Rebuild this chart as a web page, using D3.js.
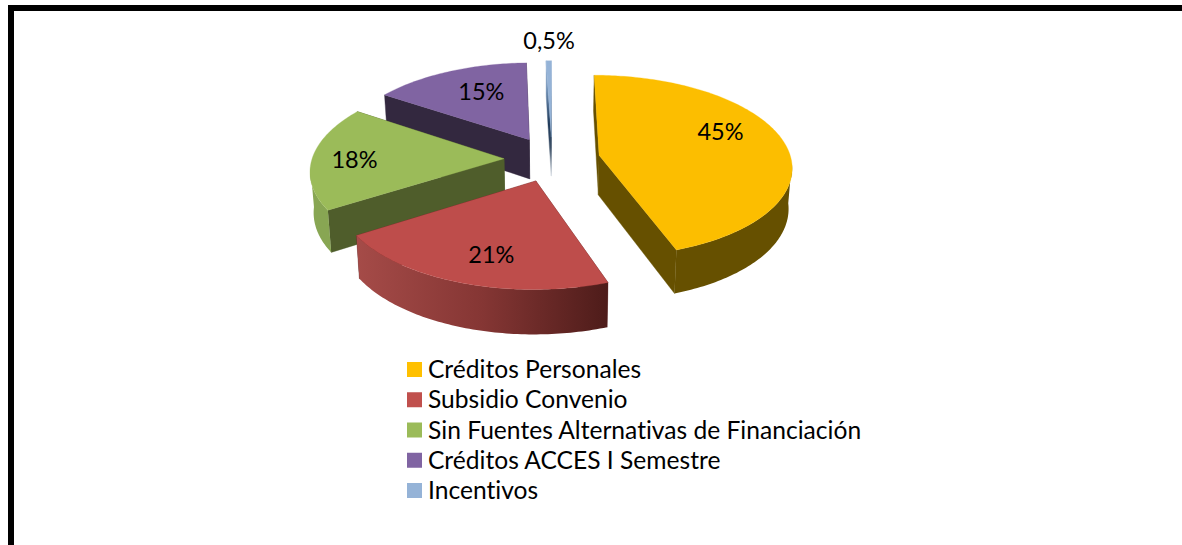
<!DOCTYPE html>
<html><head><meta charset="utf-8">
<script src="https://cdn.jsdelivr.net/npm/d3@7"></script>
<style>html,body{margin:0;padding:0;background:#fff;overflow:hidden}svg{display:block}text{font-variant-ligatures:none}</style>
</head><body><div id="chart"></div>
<script>
const categories = ["Créditos Personales","Subsidio Convenio","Sin Fuentes Alternativas de Financiación","Créditos ACCES I Semestre","Incentivos"];
const values = [44.6,21.4,18.4,15.1,0.5];
const valueLabels = ["45%","21%","18%","15%","0,5%"];
const topColors = ["#fcbe00","#be4d4b","#9bbb59","#8064a2","#95b3d7"];
const legendColors = ["#ffc000","#c0504d","#9bbb59","#8064a2","#95b3d7"];
const arcWallColors = ["#665000","url(#redWall)","#88a653","#33283f","#23405f"];
const edgeWallColors = ["#665000","#5a2220","#4f5d2b","#33283f","url(#blueWall)"];

const W=1182,H=545, font="Lato, Carlito, sans-serif";
const svg=d3.select("#chart").append("svg").attr("width",W).attr("height",H);
svg.append("rect").attr("width",W).attr("height",H).attr("fill","#fff");
svg.append("rect").attr("x",11).attr("y",8).attr("width",1400).attr("height",900)
  .attr("fill","none").attr("stroke","#000").attr("stroke-width",6);

const defs=svg.append("defs");
const g1=defs.append("linearGradient").attr("id","redWall").attr("gradientUnits","userSpaceOnUse")
  .attr("x1",357).attr("x2",607).attr("y1",0).attr("y2",0);
[[0,"#a54b48"],[.5,"#853634"],[1,"#4e1c1a"]].forEach(d=>g1.append("stop").attr("offset",d[0]).attr("stop-color",d[1]));
const g2=defs.append("linearGradient").attr("id","blueWall").attr("gradientUnits","userSpaceOnUse")
  .attr("x1",0).attr("x2",0).attr("y1",61).attr("y2",176);
[[0,"#95b3d7"],[.25,"#6f8fb5"],[.55,"#1f3a5a"],[.75,"#3b4f66"],[1,"#d5dbe2"]].forEach(d=>g2.append("stop").attr("offset",d[0]).attr("stop-color",d[1]));

// perspective projection of the tilted, exploded disc
const cx=552, cy=159, explode=.25, Rx=192, Ry=90.2, persp=.1176, lowerScale=.985;
const rad=Math.PI/180;
const project=(U,V)=>{const s=1/(1-persp*V);return [cx+Rx*U*s,cy+Ry*V*s];};
const pie=d3.pie().sort(null).startAngle(0).endAngle(2*Math.PI);
const arcs=pie(values).map((d,i)=>{
  const mid=(d.startAngle+d.endAngle)/2;
  return {...d,i,mid,ox:explode*Math.sin(mid),oy:-explode*Math.cos(mid)};
});
const line=d3.line();
const sample=(a0,a1)=>{
  const n=Math.max(2,Math.ceil((a1-a0)/(1*rad)));
  return d3.range(n+1).map(k=>a0+(a1-a0)*k/n);
};
const disc=(d,a,r=1)=>[d.ox+r*Math.sin(a),d.oy-r*Math.cos(a)];
const top3=(d,a,r=1)=>{const w=disc(d,a,r);return project(w[0],w[1]);};
const low3=(d,a,r=1)=>{const w=disc(d,a,r),p=project(w[0],w[1]);
  return [cx+(p[0]-cx)*lowerScale,p[1]+40+4*w[1]];};

const order=[3,4,2,0,1];
const gPie=svg.append("g");
order.forEach(i=>{
  const d=arcs[i], g=gPie.append("g");
  const apex=top3(d,0,0), apexLow=low3(d,0,0);
  [d.endAngle,d.startAngle].forEach(a=>{
    g.append("path").attr("d",line([apex,top3(d,a),low3(d,a),apexLow])+"Z")
      .attr("fill",edgeWallColors[i]).attr("stroke",edgeWallColors[i]).attr("stroke-width",.4);
  });
  const lo=Math.max(d.startAngle,95*rad), hi=Math.min(d.endAngle,265*rad);
  if(hi>lo){
    const as=sample(lo,hi);
    g.append("path").attr("d",line(as.map(a=>top3(d,a)).concat(as.map(a=>low3(d,a)).reverse()))+"Z")
      .attr("fill",arcWallColors[i]);
  }
  g.append("path").attr("d",line([apex].concat(sample(d.startAngle,d.endAngle).map(a=>top3(d,a))))+"Z")
    .attr("fill",topColors[i]).attr("stroke",topColors[i]).attr("stroke-width",.3);
});

// value labels, placed along each slice's mid radius
const labelFrac=[.64,.75,.77,.65,1.3], labelDx=[3,10,-2,6,1], labelDy=[-15,-1,1,-3,-1];
svg.append("g").selectAll("text").data(arcs).join("text")
  .attr("x",d=>top3(d,d.mid,labelFrac[d.i])[0]+labelDx[d.i])
  .attr("y",d=>top3(d,d.mid,labelFrac[d.i])[1]+labelDy[d.i])
  .attr("text-anchor","middle").attr("dominant-baseline","central")
  .attr("font-family",font).attr("font-size",23.5).attr("fill","#000")
  .text(d=>valueLabels[d.i]);

// legend
const rowY=d3.scalePoint().domain(categories).range([369.5,490.5]);
const leg=svg.append("g").selectAll("g").data(categories).join("g")
  .attr("transform",d=>`translate(407,${rowY(d)})`);
leg.append("rect").attr("y",-7.5).attr("width",15).attr("height",15)
  .attr("fill",(d,i)=>legendColors[i]);
leg.append("text").attr("x",21).attr("y",-1).attr("dominant-baseline","central")
  .attr("font-family",font).attr("font-size",24.6).attr("fill","#000").text(d=>d);
</script></body></html>
